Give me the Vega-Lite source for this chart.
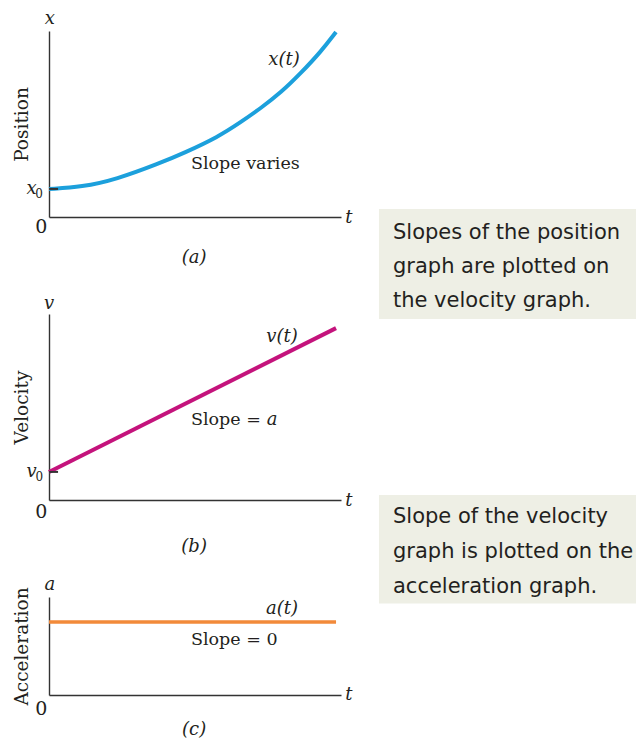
{
  "$schema": "https://vega.github.io/schema/vega-lite/v6.json",
  "autosize": {"type": "pad"},
  "padding": 0,
  "bounds": "flush",
  "spacing": 97,
  "config": {
    "view": {"stroke": null},
    "axis": {"grid": false, "ticks": false, "labels": false, "domainColor": "#333333", "domainWidth": 1.4,
      "titleFont": "DejaVu Serif", "titleFontSize": 18.5, "titleFontWeight": "normal", "titleColor": "#231F20", "titlePadding": 18},
    "text": {"color": "#231F20"}
  },
  "datasets": {
    "page_frame": [{"t": -1.644, "t_end": 20.137, "value": 11.613, "value_end": -28.065}],
    "position_curve": [
      {"t": 0, "value": 1.505}, {"t": 1.13, "value": 1.613}, {"t": 2.295, "value": 2.016}, {"t": 3.767, "value": 2.876},
      {"t": 4.623, "value": 3.441}, {"t": 5.788, "value": 4.301}, {"t": 6.575, "value": 5.108}, {"t": 7.26, "value": 5.86},
      {"t": 7.945, "value": 6.694}, {"t": 8.63, "value": 7.742}, {"t": 9.315, "value": 8.898}, {"t": 9.829, "value": 9.946}
    ],
    "position_tick": [{"t": 0, "t_end": 0.31, "value": 1.51}],
    "position_labels": [
      {"t": 0.03, "value": 10.65, "text": "x", "role": "variable"},
      {"t": -0.6, "value": 1.51, "text": "x", "role": "variable"},
      {"t": -0.34, "value": 1.24, "text": "0", "role": "subscript"},
      {"t": -0.26, "value": -0.54, "text": "0", "role": "origin"},
      {"t": 10.27, "value": -0.05, "text": "t", "role": "variable"},
      {"t": 8.05, "value": 8.44, "text": "x(t)", "role": "variable"},
      {"t": 4.97, "value": -2.2, "text": "(a)", "role": "variable"},
      {"t": 4.86, "value": 2.85, "text": "Slope varies", "role": "note"}
    ],
    "position_box": [{"t": 11.3, "t_end": 20.137, "value": 0.43, "value_end": -5.48}],
    "position_box_text": [
      {"t": 11.78, "value": -0.86, "text": "Slopes of the position"},
      {"t": 11.78, "value": -2.69, "text": "graph are plotted on"},
      {"t": 11.78, "value": -4.52, "text": "the velocity graph."}
    ],
    "velocity_line": [{"t": 0, "value": 1.51}, {"t": 9.83, "value": 9.24}],
    "velocity_tick": [{"t": 0, "t_end": 0.31, "value": 1.51}],
    "velocity_labels": [
      {"t": 0.0, "value": 10.54, "text": "v", "role": "variable"},
      {"t": -0.6, "value": 1.51, "text": "v", "role": "variable"},
      {"t": -0.33, "value": 1.24, "text": "0", "role": "subscript"},
      {"t": -0.26, "value": -0.65, "text": "0", "role": "origin"},
      {"t": 10.27, "value": -0.04, "text": "t", "role": "variable"},
      {"t": 7.98, "value": 8.76, "text": "v(t)", "role": "variable"},
      {"t": 7.64, "value": 4.32, "text": "a", "role": "variable"},
      {"t": 4.97, "value": -2.54, "text": "(b)", "role": "variable"},
      {"t": 4.86, "value": 4.32, "text": "Slope =", "role": "note"}
    ],
    "velocity_box": [{"t": 11.3, "t_end": 20.137, "value": 0.27, "value_end": -5.57}],
    "velocity_box_text": [
      {"t": 11.78, "value": -0.92, "text": "Slope of the velocity"},
      {"t": 11.78, "value": -2.81, "text": "graph is plotted on the"},
      {"t": 11.78, "value": -4.7, "text": "acceleration graph."}
    ],
    "acceleration_line": [{"t": 0, "value": 7.45}, {"t": 9.83, "value": 7.45}],
    "acceleration_labels": [
      {"t": 0.03, "value": 11.22, "text": "a", "role": "variable"},
      {"t": -0.26, "value": -1.43, "text": "0", "role": "origin"},
      {"t": 10.27, "value": 0, "text": "t", "role": "variable"},
      {"t": 7.98, "value": 8.78, "text": "a(t)", "role": "variable"},
      {"t": 4.97, "value": -3.55, "text": "(c)", "role": "variable"},
      {"t": 4.86, "value": 5.61, "text": "Slope = 0", "role": "note"}
    ]
  },
  "vconcat": [
    {
      "width": 292, "height": 186,
      "encoding": {
        "x": {"field": "t", "type": "quantitative", "scale": {"domain": [0, 10], "nice": false}, "axis": {"title": null}},
        "y": {"field": "value", "type": "quantitative", "scale": {"domain": [0, 10], "nice": false}, "axis": {"title": "Position"}}
      },
      "layer": [
        {"data": {"name": "page_frame"}, "mark": {"type": "rect", "opacity": 0},
         "encoding": {"x2": {"field": "t_end"}, "y2": {"field": "value_end"}}},
        {"data": {"name": "position_box"}, "mark": {"type": "rect", "color": "#EEEFE5"},
         "encoding": {"x2": {"field": "t_end"}, "y2": {"field": "value_end"}}},
        {"data": {"name": "position_box_text"}, "mark": {"type": "text", "font": "DejaVu Sans", "fontSize": 21, "align": "left", "baseline": "middle"},
         "encoding": {"text": {"field": "text"}}},
        {"data": {"name": "position_curve"}, "mark": {"type": "line", "color": "#1CA0DC", "strokeWidth": 4, "interpolate": "basis"}},
        {"data": {"name": "position_tick"}, "mark": {"type": "rule", "color": "#333333", "strokeWidth": 2},
         "encoding": {"x2": {"field": "t_end"}}},
        {"data": {"name": "position_labels"}, "transform": [{"filter": "datum.role === 'variable'"}],
         "mark": {"type": "text", "font": "DejaVu Serif", "fontStyle": "italic", "fontSize": 18}, "encoding": {"text": {"field": "text"}}},
        {"data": {"name": "position_labels"}, "transform": [{"filter": "datum.role === 'subscript'"}],
         "mark": {"type": "text", "font": "DejaVu Serif", "fontSize": 12}, "encoding": {"text": {"field": "text"}}},
        {"data": {"name": "position_labels"}, "transform": [{"filter": "datum.role === 'origin'"}],
         "mark": {"type": "text", "font": "DejaVu Serif", "fontSize": 19}, "encoding": {"text": {"field": "text"}}},
        {"data": {"name": "position_labels"}, "transform": [{"filter": "datum.role === 'note'"}],
         "mark": {"type": "text", "font": "DejaVu Serif", "fontSize": 17.5, "align": "left"}, "encoding": {"text": {"field": "text"}}}
      ]
    },
    {
      "width": 292, "height": 186,
      "encoding": {
        "x": {"field": "t", "type": "quantitative", "scale": {"domain": [0, 10], "nice": false}, "axis": {"title": null}},
        "y": {"field": "value", "type": "quantitative", "scale": {"domain": [0, 10], "nice": false}, "axis": {"title": "Velocity"}}
      },
      "layer": [
        {"data": {"name": "velocity_box"}, "mark": {"type": "rect", "color": "#EEEFE5"},
         "encoding": {"x2": {"field": "t_end"}, "y2": {"field": "value_end"}}},
        {"data": {"name": "velocity_box_text"}, "mark": {"type": "text", "font": "DejaVu Sans", "fontSize": 21, "align": "left", "baseline": "middle"},
         "encoding": {"text": {"field": "text"}}},
        {"data": {"name": "velocity_line"}, "mark": {"type": "line", "color": "#C4137C", "strokeWidth": 4}},
        {"data": {"name": "velocity_tick"}, "mark": {"type": "rule", "color": "#333333", "strokeWidth": 2},
         "encoding": {"x2": {"field": "t_end"}}},
        {"data": {"name": "velocity_labels"}, "transform": [{"filter": "datum.role === 'variable'"}],
         "mark": {"type": "text", "font": "DejaVu Serif", "fontStyle": "italic", "fontSize": 18}, "encoding": {"text": {"field": "text"}}},
        {"data": {"name": "velocity_labels"}, "transform": [{"filter": "datum.role === 'subscript'"}],
         "mark": {"type": "text", "font": "DejaVu Serif", "fontSize": 12}, "encoding": {"text": {"field": "text"}}},
        {"data": {"name": "velocity_labels"}, "transform": [{"filter": "datum.role === 'origin'"}],
         "mark": {"type": "text", "font": "DejaVu Serif", "fontSize": 19}, "encoding": {"text": {"field": "text"}}},
        {"data": {"name": "velocity_labels"}, "transform": [{"filter": "datum.role === 'note'"}],
         "mark": {"type": "text", "font": "DejaVu Serif", "fontSize": 17.5, "align": "left"}, "encoding": {"text": {"field": "text"}}}
      ]
    },
    {
      "width": 292, "height": 98,
      "encoding": {
        "x": {"field": "t", "type": "quantitative", "scale": {"domain": [0, 10], "nice": false}, "axis": {"title": null}},
        "y": {"field": "value", "type": "quantitative", "scale": {"domain": [0, 10], "nice": false}, "axis": {"title": "Acceleration"}}
      },
      "layer": [
        {"data": {"name": "acceleration_line"}, "mark": {"type": "line", "color": "#F28A3A", "strokeWidth": 3.6}},
        {"data": {"name": "acceleration_labels"}, "transform": [{"filter": "datum.role === 'variable'"}],
         "mark": {"type": "text", "font": "DejaVu Serif", "fontStyle": "italic", "fontSize": 18}, "encoding": {"text": {"field": "text"}}},
        {"data": {"name": "acceleration_labels"}, "transform": [{"filter": "datum.role === 'origin'"}],
         "mark": {"type": "text", "font": "DejaVu Serif", "fontSize": 19}, "encoding": {"text": {"field": "text"}}},
        {"data": {"name": "acceleration_labels"}, "transform": [{"filter": "datum.role === 'note'"}],
         "mark": {"type": "text", "font": "DejaVu Serif", "fontSize": 17.5, "align": "left"}, "encoding": {"text": {"field": "text"}}}
      ]
    }
  ]
}
